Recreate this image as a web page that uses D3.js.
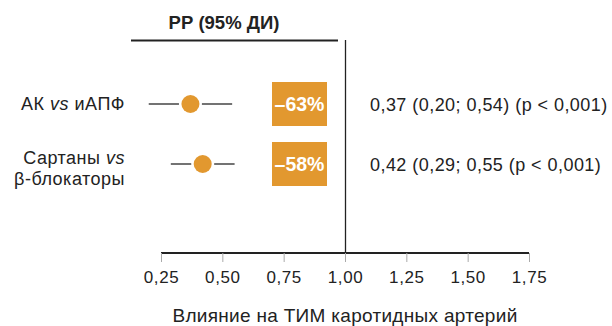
<!DOCTYPE html>
<html>
<head>
<meta charset="utf-8">
<script src="https://cdn.jsdelivr.net/npm/d3@7"></script>
<style>
  html, body { margin: 0; padding: 0; background: #fff; }
  svg { display: block; font-family: "Liberation Sans", Arial, Helvetica, sans-serif; }
</style>
</head>
<body>
<svg id="chart" width="612" height="326"></svg>
<script>
// Comparisons (row labels, split into lines; true marks italic runs)
const comparisons = ["АК vs иАПФ", "Сартаны vs β-блокаторы"];
const labelLines = [
  [[["АК ", false], ["vs", true], [" иАПФ", false]]],
  [[["Сартаны ", false], ["vs", true]], [["β-блокаторы", false]]],
];

// Relative risk with 95% CI
const rrValues = [0.37, 0.42];
const ciLow = [0.20, 0.29];
const ciHigh = [0.54, 0.55];
const pTexts = ["(p < 0,001)", "(p < 0,001)"];
// The second row's CI text is printed without its closing bracket
const ciClose = [")", ""];

const xTicks = [0.25, 0.50, 0.75, 1.00, 1.25, 1.50, 1.75];

const headerText = "РР (95% ДИ)";
const axisTitle = "Влияние на ТИМ каротидных артерий";

const orange = "#E2982F";
const ink = "#222";

const svg = d3.select("#chart");
const fmt = v => d3.format(".2f")(v).replace(".", ",");

const x = d3.scaleLinear().domain([0.25, 1.75]).range([161, 529]);
const y = d3.scalePoint().domain(comparisons).range([104, 164]);

// Header
svg.append("text")
  .attr("x", 224).attr("y", 29)
  .attr("text-anchor", "middle")
  .attr("font-size", 18.5).attr("font-weight", "bold").attr("fill", ink)
  .text(headerText);
svg.append("line")
  .attr("x1", 131).attr("x2", 338).attr("y1", 40.5).attr("y2", 40.5)
  .attr("stroke", ink).attr("stroke-width", 2);

// No-effect reference line at RR = 1
svg.append("line")
  .attr("x1", x(1) + 0.5).attr("x2", x(1) + 0.5)
  .attr("y1", 40).attr("y2", 253)
  .attr("stroke", ink).attr("stroke-width", 1.3);

// X axis
const axis = d3.axisBottom(x)
  .tickValues(xTicks)
  .tickFormat(fmt)
  .tickSize(9)
  .tickPadding(9);
const gx = svg.append("g").attr("transform", "translate(0,253)").call(axis);
gx.select(".domain").attr("stroke", ink).attr("stroke-width", 2.2)
  .attr("d", `M${x(0.25)},0H${x(1.75)}`);
gx.selectAll(".tick line").attr("stroke", "#aaa").attr("stroke-width", 1);
gx.selectAll(".tick text")
  .attr("font-size", 17).attr("fill", ink)
  .attr("letter-spacing", 0.6)
  .attr("font-family", "Liberation Sans, Arial, sans-serif");

svg.append("text")
  .attr("x", x(1)).attr("y", 322)
  .attr("text-anchor", "middle")
  .attr("font-size", 19).attr("fill", ink)
  .attr("letter-spacing", 0.3)
  .text(axisTitle);

// Rows
comparisons.forEach((c, i) => {
  const cy = y(c);
  const lines = labelLines[i];
  const lineGap = 20.5;
  const firstBaseline = lines.length > 1 ? cy : cy + 6;
  const t = svg.append("text")
    .attr("x", 125)
    .attr("y", firstBaseline)
    .attr("text-anchor", "end")
    .attr("font-size", 18).attr("fill", ink)
    .attr("letter-spacing", 0.5);
  lines.forEach((runs, li) => {
    runs.forEach(([s, it], ri) => {
      const sp = t.append("tspan")
        .attr("font-style", it ? "italic" : "normal")
        .text(s);
      if (ri === 0 && li > 0) sp.attr("x", 125).attr("dy", lineGap);
    });
  });

  // Confidence interval whisker and point estimate
  svg.append("line")
    .attr("x1", x(ciLow[i])).attr("x2", x(ciHigh[i]))
    .attr("y1", cy).attr("y2", cy)
    .attr("stroke", "#444").attr("stroke-width", 1.5);
  svg.append("circle")
    .attr("cx", x(rrValues[i])).attr("cy", cy).attr("r", 9.5)
    .attr("fill", orange)
    .attr("stroke", "#fff").attr("stroke-width", 4);
  svg.append("circle")
    .attr("cx", x(rrValues[i])).attr("cy", cy).attr("r", 9)
    .attr("fill", orange);

  // Relative risk reduction badge
  const reduction = Math.round((1 - rrValues[i]) * 100);
  svg.append("rect")
    .attr("x", 272).attr("y", cy - 22)
    .attr("width", 55).attr("height", 44)
    .attr("fill", orange);
  svg.append("text")
    .attr("x", 299.5).attr("y", cy + 7)
    .attr("text-anchor", "middle")
    .attr("font-size", 19.5).attr("font-weight", "bold").attr("fill", "#fff")
    .text("\u2013" + reduction + "%");

  // Numeric RR text
  svg.append("text")
    .attr("x", 370).attr("y", cy + 6.5)
    .attr("font-size", 18).attr("fill", ink)
    .attr("letter-spacing", 0.45)
    .text(`${fmt(rrValues[i])} (${fmt(ciLow[i])}; ${fmt(ciHigh[i])}${ciClose[i]} ${pTexts[i]}`);
});
</script>
</body>
</html>
